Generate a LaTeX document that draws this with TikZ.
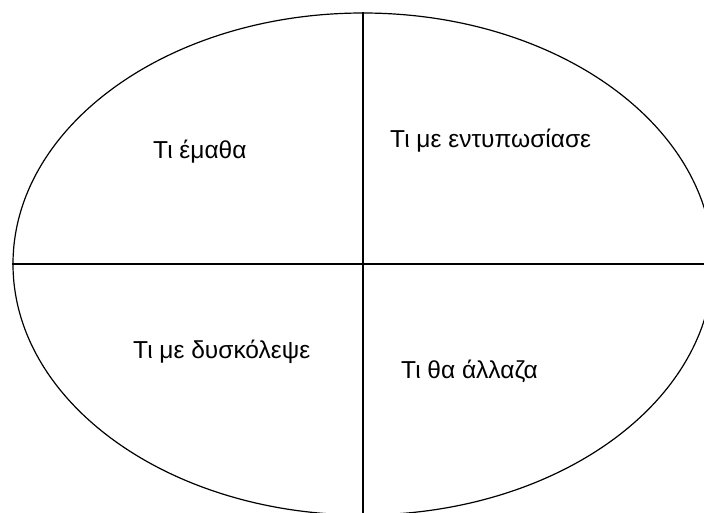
\documentclass[tikz,border=0pt]{standalone}
\usepackage{fontspec}
\setmainfont{Liberation Sans}
\usetikzlibrary{shapes.geometric}
\begin{document}
\begin{tikzpicture}[x=1pt,y=-1pt,
  lbl/.style={anchor=base west,inner sep=0pt,font=\fontsize{24.5}{28}\selectfont},
  rule/.style={line width=1.2pt,black}]
\useasboundingbox (0,0) rectangle (704,512);
\begin{scope}
\clip (0,0) rectangle (704,512);
\node[rule,draw,ellipse,inner sep=0pt,minimum width=700pt,minimum height=502pt] (oval) at (363,264) {};
\draw[rule] (oval.north) -- (oval.south);
\draw[rule] (oval.west) -- (oval.east);
\end{scope}
\node[lbl] (learned) at (153,158) {Τι έμαθα};
\node[lbl] (impressed) at (390,147) {Τι με εντυπωσίασε};
\node[lbl] (hard) at (133,358) {Τι με δυσκόλεψε};
\node[lbl] (change) at (401,378) {Τι θα άλλαζα};
\end{tikzpicture}
\end{document}
